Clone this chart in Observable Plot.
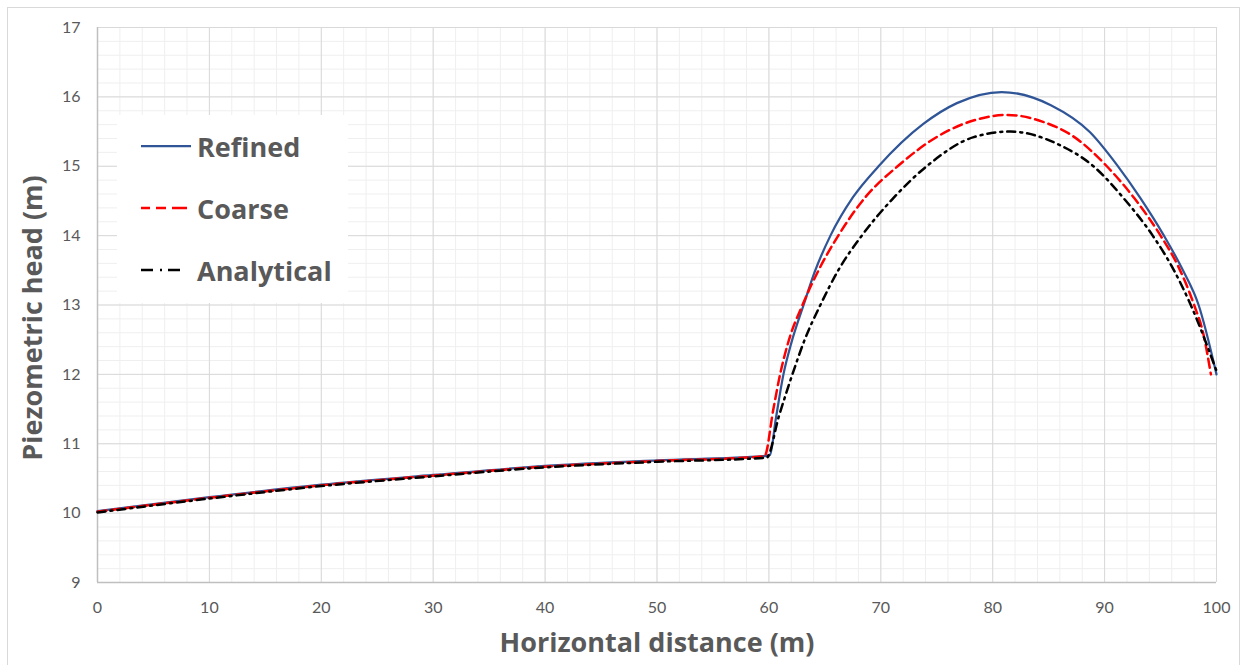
<!DOCTYPE html>
<html>
<head>
<meta charset="utf-8">
<script src="https://cdn.jsdelivr.net/npm/d3@7"></script>
<script src="https://cdn.jsdelivr.net/npm/@observablehq/plot@0.6"></script>
<style>
  html, body { margin: 0; padding: 0; background: #fff; overflow: hidden; }
  #wrap { position: relative; width: 1248px; height: 665px; }
  #border { position: absolute; left: 7px; top: 7px; width: 1233px; height: 700px; border: 1px solid #d9d9d9; box-sizing: border-box; pointer-events: none; }
  #chart { position: absolute; left: 0; top: 0; }
  #legend { position: absolute; left: 117px; top: 115px; width: 231px; height: 188px; background: #fff; }
  .item { position: absolute; left: 24px; height: 40px; display: flex; align-items: center; }
  .item span { font-family: "Open Sans", Lato, sans-serif; font-weight: bold; font-size: 27px; color: #595959; margin-left: 6px; }
</style>
</head>
<body>
<div id="wrap">
  <div id="chart"></div>
  <div id="legend"></div>
  <div id="border"></div>
</div>
<script>
// ---- data ----
const xTicks = [0, 10, 20, 30, 40, 50, 60, 70, 80, 90, 100];
const yTicks = [9, 10, 11, 12, 13, 14, 15, 16, 17];

const refinedX = [0, 10, 20, 30, 40, 50, 59.5, 60.1, 60.6, 61.3, 62.0, 63.1, 64.1, 65.5, 67.5, 69.8, 73.8, 76.8, 80.8, 85.2, 88.7, 91.1, 93.2, 95.3, 97.0, 98.4, 100];
const refinedY = [10.03, 10.23, 10.41, 10.55, 10.68, 10.76, 10.82, 10.84, 11.34, 12.0, 12.45, 13.0, 13.48, 14.0, 14.55, 15.0, 15.61, 15.91, 16.07, 15.88, 15.49, 15.02, 14.54, 14.0, 13.5, 13.0, 12.0];

const coarseX = [0, 10, 20, 30, 40, 50, 59.6, 60.4, 61.0, 61.8, 63.0, 64.5, 66.2, 68.6, 71.5, 75.3, 78.5, 81.3, 84.5, 87.3, 90.2, 92.7, 95.0, 96.6, 98.0, 98.8, 99.5];
const coarseY = [10.02, 10.22, 10.40, 10.54, 10.67, 10.75, 10.82, 11.50, 12.0, 12.5, 13.0, 13.52, 14.0, 14.55, 15.0, 15.45, 15.67, 15.74, 15.64, 15.42, 15.0, 14.53, 14.0, 13.55, 13.0, 12.6, 12.0];

const analyticalX = [0, 10, 20, 30, 40, 50, 59.8, 60.9, 62.1, 63.2, 64.6, 66.2, 68.3, 71.0, 74.1, 78.3, 81.6, 85.8, 89.0, 91.8, 94.3, 96.2, 97.7, 100];
const analyticalY = [10.01, 10.21, 10.39, 10.53, 10.66, 10.74, 10.80, 11.40, 12.0, 12.5, 13.0, 13.5, 14.0, 14.52, 15.0, 15.42, 15.50, 15.32, 15.0, 14.52, 14.0, 13.5, 13.0, 12.05];

const seriesNames = ["Refined", "Coarse", "Analytical"];

// ---- build ----
const toRows = (xs, ys) => xs.map((x, i) => ({x, y: ys[i]}));
const refined = toRows(refinedX, refinedY);
const coarse = toRows(coarseX, coarseY);
const analytical = toRows(analyticalX, analyticalY);

const minorX = d3.range(0, 100.001, 2);
const minorY = d3.range(9, 17.001, 0.2);

const styles = {
  Refined: {stroke: "#2f5597", strokeWidth: 2.25, dash: null, legendDash: null},
  Coarse: {stroke: "#ff0000", strokeWidth: 2.5, dash: "9,5", legendDash: "9,6,10,6,15,20"},
  Analytical: {stroke: "#000000", strokeWidth: 2.5, dash: "8,5,2,5", legendDash: "12,7,2,6,12,20"}
};

const tickFont = 'Lato, "Open Sans", sans-serif';
const titleFont = '"Open Sans", Lato, sans-serif';

const plot = Plot.plot({
  width: 1248,
  height: 665,
  marginLeft: 97,
  marginRight: 32,
  marginTop: 27,
  marginBottom: 83,
  style: {fontFamily: tickFont, color: "#595959", background: "transparent"},
  x: {domain: [0, 100]},
  y: {domain: [9, 17]},
  marks: [
    Plot.gridX(minorX, {stroke: "#efefef", strokeOpacity: 1, strokeWidth: 1}),
    Plot.gridY(minorY, {stroke: "#efefef", strokeOpacity: 1, strokeWidth: 1}),
    Plot.gridX(xTicks, {stroke: "#d9d9d9", strokeOpacity: 1, strokeWidth: 1}),
    Plot.gridY(yTicks, {stroke: "#d9d9d9", strokeOpacity: 1, strokeWidth: 1}),
    Plot.ruleX([xTicks[0]], {stroke: "#bfbfbf", strokeWidth: 1.5}),
    Plot.ruleY([yTicks[0]], {stroke: "#bfbfbf", strokeWidth: 1.5}),
    Plot.line(refined, {x: "x", y: "y", stroke: styles.Refined.stroke, strokeWidth: styles.Refined.strokeWidth, curve: "monotone-x"}),
    Plot.line(coarse, {x: "x", y: "y", stroke: styles.Coarse.stroke, strokeWidth: styles.Coarse.strokeWidth, strokeDasharray: styles.Coarse.dash, curve: "monotone-x"}),
    Plot.line(analytical, {x: "x", y: "y", stroke: styles.Analytical.stroke, strokeWidth: styles.Analytical.strokeWidth, strokeDasharray: styles.Analytical.dash, curve: "monotone-x"}),
    Plot.axisX(xTicks, {tickSize: 0, tickPadding: 19, fontSize: 16, label: null, fill: "#595959", tickFormat: d => String(d)}),
    Plot.axisY(yTicks, {tickSize: 0, tickPadding: 17, fontSize: 16, label: null, fill: "#595959", tickFormat: d => String(d)}),
    Plot.text(["Horizontal distance (m)"], {frameAnchor: "bottom", dy: 61, lineAnchor: "middle", textAnchor: "middle", fontFamily: titleFont, fontSize: 27, fontWeight: "bold", fill: "#595959"}),
    Plot.text(["Piezometric head (m)"], {frameAnchor: "left", dx: -64, dy: 13, rotate: -90, lineAnchor: "middle", textAnchor: "middle", fontFamily: titleFont, fontSize: 27, fontWeight: "bold", fill: "#595959"})
  ]
});
document.getElementById("chart").appendChild(plot);

// legend
const legend = document.getElementById("legend");
const rowTops = [11, 73, 135];
seriesNames.forEach((name, i) => {
  const s = styles[name];
  const item = document.createElement("div");
  item.className = "item";
  item.style.top = rowTops[i] + "px";
  const dash = s.legendDash ? ` stroke-dasharray="${s.legendDash}"` : "";
  item.innerHTML = `<svg width="50" height="10"><line x1="0" x2="50" y1="5" y2="5" stroke="${s.stroke}" stroke-width="${s.strokeWidth}"${dash}/></svg><span>${name}</span>`;
  legend.appendChild(item);
});
</script>
</body>
</html>
